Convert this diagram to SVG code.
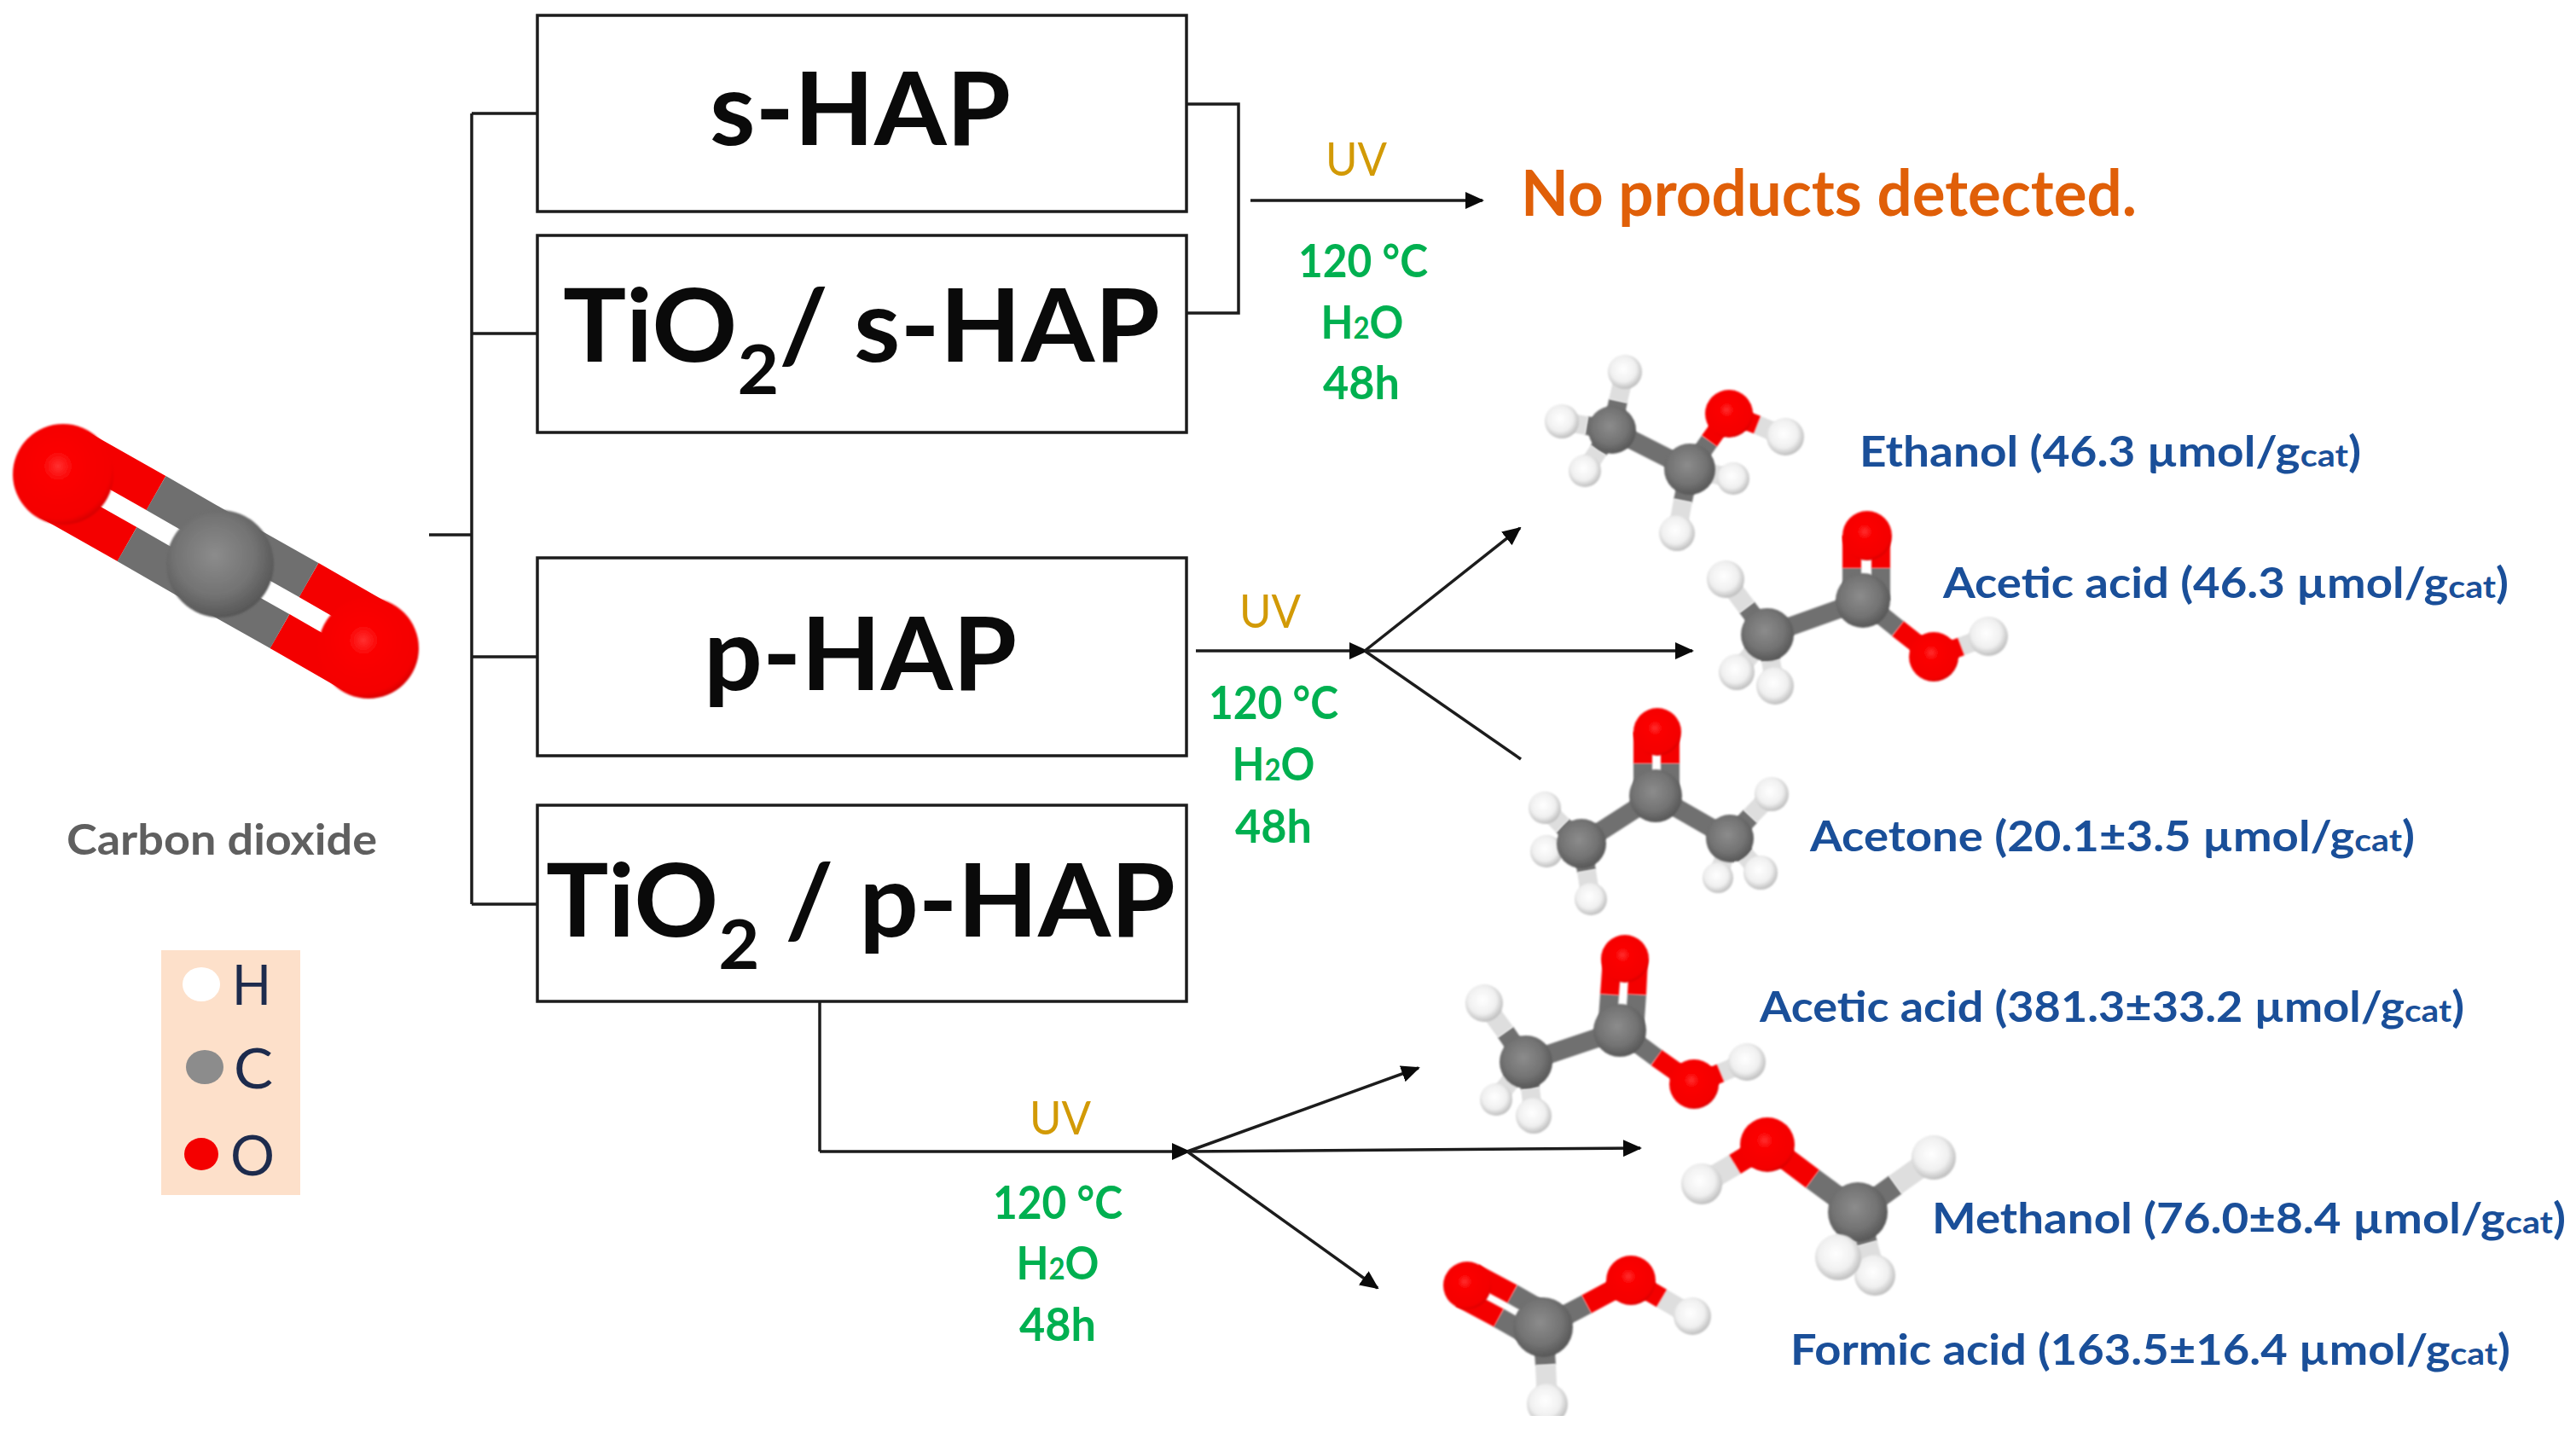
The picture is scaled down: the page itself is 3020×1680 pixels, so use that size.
<svg xmlns="http://www.w3.org/2000/svg" width="3020" height="1680" viewBox="0 0 3020 1680">
<style>
text{font-family:Lato,"Open Sans","Liberation Sans",sans-serif}
.box{fill:#fff;stroke:#1c1c1c;stroke-width:3.5}
.big{font-size:118px;font-weight:700;fill:#0a0a0a}
.uv{font-size:54px;fill:#d29a06}
.cond{font-size:54px;font-weight:700;fill:#00b050;text-anchor:middle}
.prod{font-size:49px;font-weight:700;fill:#1a4f99}
.cat{font-size:37px}
.con{fill:none;stroke:#1c1c1c;stroke-width:3.5}
.arr{marker-end:url(#ah)}
.b{fill:none;stroke-width:22;filter:url(#soft)}
.r{stroke:#f40000}.g{stroke:#6f6f6f}.w{stroke:#dedede}
.O{fill:url(#gO);filter:url(#soft)}.C{fill:url(#gC);filter:url(#soft)}.H{fill:url(#gH);filter:url(#soft)}
</style>
<defs>
<filter id="soft" filterUnits="userSpaceOnUse" x="0" y="400" width="3020" height="1280"><feGaussianBlur stdDeviation="1.3"/></filter>
<marker id="ah" markerUnits="userSpaceOnUse" markerWidth="22" markerHeight="20" refX="20" refY="10" orient="auto"><path d="M0 0L22 10L0 20Z" fill="#0a0a0a"/></marker>
<radialGradient id="gO" cx=".45" cy=".42" r=".62"><stop offset="0" stop-color="#ff3030"/><stop offset=".25" stop-color="#fb0000"/><stop offset=".85" stop-color="#f40000"/><stop offset="1" stop-color="#c80000"/></radialGradient>
<radialGradient id="gC" cx=".45" cy=".42" r=".62"><stop offset="0" stop-color="#8c8c8c"/><stop offset=".6" stop-color="#737373"/><stop offset="1" stop-color="#525252"/></radialGradient>
<radialGradient id="gH" cx=".45" cy=".42" r=".62"><stop offset="0" stop-color="#ffffff"/><stop offset=".6" stop-color="#f0f0f0"/><stop offset="1" stop-color="#b4b4b4"/></radialGradient>
<clipPath id="crop"><rect x="1650" y="1440" width="400" height="220"/></clipPath>
</defs>
<rect width="3020" height="1680" fill="#fff"/>

<g id="connectors">
<path class="con" d="M503 627H553M553 133V1060M553 133H630M553 391H630M553 770H630M553 1060H630"/>
<path class="con" d="M1391 122H1452V367H1391"/>
<path class="con arr" d="M1466 235H1738"/>
<path class="con arr" d="M1402 763H1602"/>
<path class="con arr" d="M1600 763L1782 619"/>
<path class="con arr" d="M1600 763H1984"/>
<path class="con" d="M1600 763L1783 890"/>
<path class="con" d="M961 1174V1350"/>
<path class="con arr" d="M961 1350H1394"/>
<path class="con arr" d="M1392 1350L1663 1252"/>
<path class="con arr" d="M1392 1350L1923 1346"/>
<path class="con arr" d="M1392 1350L1615 1510"/>
</g>

<g id="s-hap"><rect class="box" x="630" y="18" width="761" height="230"/><text class="big" x="832" y="170" textLength="353" lengthAdjust="spacingAndGlyphs">s-HAP</text></g>
<g id="tio2-s-hap"><rect class="box" x="630" y="276" width="761" height="231"/><text class="big" x="660" y="424" textLength="700" lengthAdjust="spacingAndGlyphs">TiO<tspan font-size="80" dy="38">2</tspan><tspan dy="-38">/ s-HAP</tspan></text></g>
<g id="p-hap"><rect class="box" x="630" y="654" width="761" height="232"/><text class="big" x="825" y="809" textLength="367" lengthAdjust="spacingAndGlyphs">p-HAP</text></g>
<g id="tio2-p-hap"><rect class="box" x="630" y="944" width="761" height="230"/><text class="big" x="640" y="1098" textLength="738" lengthAdjust="spacingAndGlyphs">TiO<tspan font-size="80" dy="38">2</tspan><tspan dy="-38"> / p-HAP</tspan></text></g>

<g id="co2">
<path fill="none" stroke-width="46" stroke="#f40000" d="M91 526L183 578M57 586L149 638M362 680L449 730M328 740L415 790"/>
<path fill="none" stroke-width="46" stroke="#6f6f6f" d="M183 578L275 631M149 638L241 691M275 631L362 680M241 691L328 740"/>
<circle class="O" cx="74" cy="556" r="59"/><circle class="O" cx="432" cy="760" r="59"/><circle class="C" cx="258" cy="661" r="63"/>
<text x="78" y="1002" font-size="49" font-weight="700" fill="#5f5f5f" textLength="364" lengthAdjust="spacingAndGlyphs">Carbon dioxide</text>
</g>

<g id="legend">
<rect x="189" y="1114" width="163" height="287" fill="#fde0ca"/>
<ellipse cx="236" cy="1154" rx="22" ry="20" fill="#fff"/><ellipse cx="240" cy="1251" rx="22" ry="20" fill="#8c8c8c"/><ellipse cx="236" cy="1353" rx="20" ry="19" fill="#f40000"/>
<g font-size="66" fill="#1d2b4d"><text x="272" y="1178" textLength="46" lengthAdjust="spacingAndGlyphs">H</text><text x="274" y="1276" textLength="46" lengthAdjust="spacingAndGlyphs">C</text><text x="270" y="1378" textLength="52" lengthAdjust="spacingAndGlyphs">O</text></g>
</g>

<g id="cond-1">
<text class="uv" x="1554" y="206" textLength="72" lengthAdjust="spacingAndGlyphs">UV</text>
<text class="cond" x="1598" y="325" textLength="152" lengthAdjust="spacingAndGlyphs">120 °C</text>
<text class="cond" x="1597" y="397" textLength="97" lengthAdjust="spacingAndGlyphs">H<tspan font-size="36">2</tspan>O</text>
<text class="cond" x="1596" y="468" textLength="90" lengthAdjust="spacingAndGlyphs">48h</text>
</g>
<g id="no-products"><text x="1783" y="253" font-size="74" font-weight="700" fill="#e05f08" textLength="722" lengthAdjust="spacingAndGlyphs">No products detected.</text></g>

<g id="cond-2">
<text class="uv" x="1453" y="736" textLength="72" lengthAdjust="spacingAndGlyphs">UV</text>
<text class="cond" x="1493" y="843" textLength="152" lengthAdjust="spacingAndGlyphs">120 °C</text>
<text class="cond" x="1493" y="915" textLength="97" lengthAdjust="spacingAndGlyphs">H<tspan font-size="36">2</tspan>O</text>
<text class="cond" x="1493" y="988" textLength="90" lengthAdjust="spacingAndGlyphs">48h</text>
</g>
<g id="cond-3">
<text class="uv" x="1207" y="1330" textLength="72" lengthAdjust="spacingAndGlyphs">UV</text>
<text class="cond" x="1240" y="1429" textLength="152" lengthAdjust="spacingAndGlyphs">120 °C</text>
<text class="cond" x="1240" y="1500" textLength="97" lengthAdjust="spacingAndGlyphs">H<tspan font-size="36">2</tspan>O</text>
<text class="cond" x="1240" y="1572" textLength="90" lengthAdjust="spacingAndGlyphs">48h</text>
</g>

<g id="ethanol">
<path class="b g" d="M1890 504L1897 470M1890 504L1860 499M1890 504L1874 528M1890 504L1981 550M1981 550L2004 517M1981 550L2006 555M1981 550L1973 587"/>
<path class="b w" d="M1897 470L1905 436M1860 499L1831 494M1874 528L1858 552M2060 498L2093 512M2006 555L2032 561M1973 587L1966 625"/>
<path class="b r" d="M2004 517L2027 485M2027 485L2060 498"/>
<circle class="H" cx="1905" cy="436" r="20"/><circle class="H" cx="1831" cy="494" r="20"/><circle class="H" cx="1858" cy="552" r="19"/><circle class="H" cx="2032" cy="561" r="19"/>
<circle class="C" cx="1890" cy="504" r="28"/><circle class="C" cx="1981" cy="550" r="30"/><circle class="O" cx="2027" cy="485" r="28"/>
<circle class="H" cx="2093" cy="512" r="22"/><circle class="H" cx="1966" cy="625" r="21"/>
<text class="prod" x="2180" y="547" textLength="588" lengthAdjust="spacingAndGlyphs">Ethanol (46.3 µmol/g<tspan class="cat">cat</tspan>)</text>
</g>
<g id="acetic-acid-1">
<path class="b g" d="M2072 744L2184 704M2072 744L2048 712M2072 744L2054 766M2072 744L2076 774M2184 704L2225 737"/>
<path class="b g" d="M2171 704V666M2205 704V666"/>
<path class="b w" d="M2048 712L2023 679M2054 766L2036 788M2076 774L2081 804M2299 758L2331 746"/>
<path class="b r" d="M2225 737L2267 770L2299 758M2171 666V628M2205 666V628"/>
<circle class="H" cx="2023" cy="679" r="22"/><circle class="H" cx="2036" cy="788" r="21"/><circle class="H" cx="2081" cy="804" r="22"/>
<circle class="C" cx="2072" cy="744" r="31"/><circle class="C" cx="2184" cy="704" r="32"/><circle class="O" cx="2189" cy="628" r="29"/>
<circle class="H" cx="2331" cy="746" r="23"/><circle class="O" cx="2267" cy="770" r="29"/>
<text class="prod" x="2278" y="701" textLength="663" lengthAdjust="spacingAndGlyphs">Acetic acid (46.3 µmol/g<tspan class="cat">cat</tspan>)</text>
</g>
<g id="acetone">
<path class="b g" d="M1854 989L1941 933L2028 983M1854 989L1832 968M1854 989L1833 993M1854 989L1860 1021M2028 983L2052 957M2028 983L2021 1006M2028 983L2046 1003M1926 933V895M1958 933V895"/>
<path class="b w" d="M1832 968L1811 947M1833 993L1813 998M1860 1021L1865 1054M2052 957L2077 931M2021 1006L2014 1029M2046 1003L2064 1023"/>
<path class="b r" d="M1926 895V858M1958 895V858"/>
<circle class="H" cx="1811" cy="947" r="19"/><circle class="H" cx="1813" cy="998" r="19"/><circle class="H" cx="1865" cy="1054" r="19"/><circle class="H" cx="2077" cy="931" r="20"/><circle class="H" cx="2014" cy="1029" r="18"/><circle class="H" cx="2064" cy="1023" r="20"/>
<circle class="C" cx="1854" cy="989" r="29"/><circle class="C" cx="1941" cy="933" r="31"/><circle class="C" cx="2028" cy="983" r="28"/><circle class="O" cx="1943" cy="858" r="28"/>
<text class="prod" x="2122" y="998" textLength="709" lengthAdjust="spacingAndGlyphs">Acetone (20.1±3.5 µmol/g<tspan class="cat">cat</tspan>)</text>
</g>
<g id="acetic-acid-2">
<path class="b g" d="M1789 1245L1899 1208M1789 1245L1765 1210M1789 1245L1771 1267M1789 1245L1794 1276M1899 1208L1942 1240M1884 1208L1887 1166M1916 1208L1919 1166"/>
<path class="b w" d="M1765 1210L1740 1176M1771 1267L1754 1289M1794 1276L1798 1308M2017 1258L2048 1245"/>
<path class="b r" d="M1942 1240L1986 1271L2017 1258M1887 1166L1890 1124M1919 1166L1921 1124"/>
<circle class="H" cx="1740" cy="1176" r="22"/><circle class="H" cx="1754" cy="1289" r="19"/><circle class="H" cx="1798" cy="1308" r="21"/>
<circle class="C" cx="1789" cy="1245" r="31"/><circle class="C" cx="1899" cy="1208" r="31"/><circle class="O" cx="1905" cy="1124" r="28"/>
<circle class="H" cx="2048" cy="1245" r="22"/><circle class="O" cx="1986" cy="1271" r="29"/>
<text class="prod" x="2063" y="1198" textLength="826" lengthAdjust="spacingAndGlyphs">Acetic acid (381.3±33.2 µmol/g<tspan class="cat">cat</tspan>)</text>
</g>
<g id="methanol">
<path class="b g" style="stroke-width:26" d="M2178 1421L2125 1382M2178 1421L2222 1389M2178 1421L2166 1448M2178 1421L2188 1458"/>
<path class="b w" style="stroke-width:26" d="M2034 1365L1995 1388M2222 1389L2267 1357M2166 1448L2155 1474M2188 1458L2198 1495"/>
<path class="b r" style="stroke-width:26" d="M2125 1382L2072 1342L2034 1365"/>
<circle class="H" cx="2198" cy="1495" r="24"/><circle class="C" cx="2178" cy="1421" r="35"/><circle class="H" cx="2155" cy="1474" r="27"/>
<circle class="H" cx="1995" cy="1388" r="24"/><circle class="H" cx="2267" cy="1357" r="26"/><circle class="O" cx="2072" cy="1342" r="32"/>
<text class="prod" x="2265" y="1446" textLength="743" lengthAdjust="spacingAndGlyphs">Methanol (76.0±8.4 µmol/g<tspan class="cat">cat</tspan>)</text>
</g>
<g id="formic-acid">
<g clip-path="url(#crop)">
<path class="b g" style="stroke-width:24" d="M1817 1542L1773 1517M1801 1570L1757 1545M1809 1556L1860 1529M1809 1556L1812 1600"/>
<path class="b w" style="stroke-width:24" d="M1948 1522L1984 1543M1812 1600L1814 1646"/>
<path class="b r" style="stroke-width:24" d="M1773 1517L1728 1493M1757 1545L1712 1521M1860 1529L1912 1501L1948 1522"/>
<circle class="O" cx="1720" cy="1507" r="28"/><circle class="C" cx="1809" cy="1556" r="35"/><circle class="H" cx="1984" cy="1543" r="22"/><circle class="O" cx="1912" cy="1501" r="29"/><circle class="H" cx="1814" cy="1646" r="24"/>
</g>
<text class="prod" x="2099" y="1600" textLength="844" lengthAdjust="spacingAndGlyphs">Formic acid (163.5±16.4 µmol/g<tspan class="cat">cat</tspan>)</text>
</g>
</svg>
